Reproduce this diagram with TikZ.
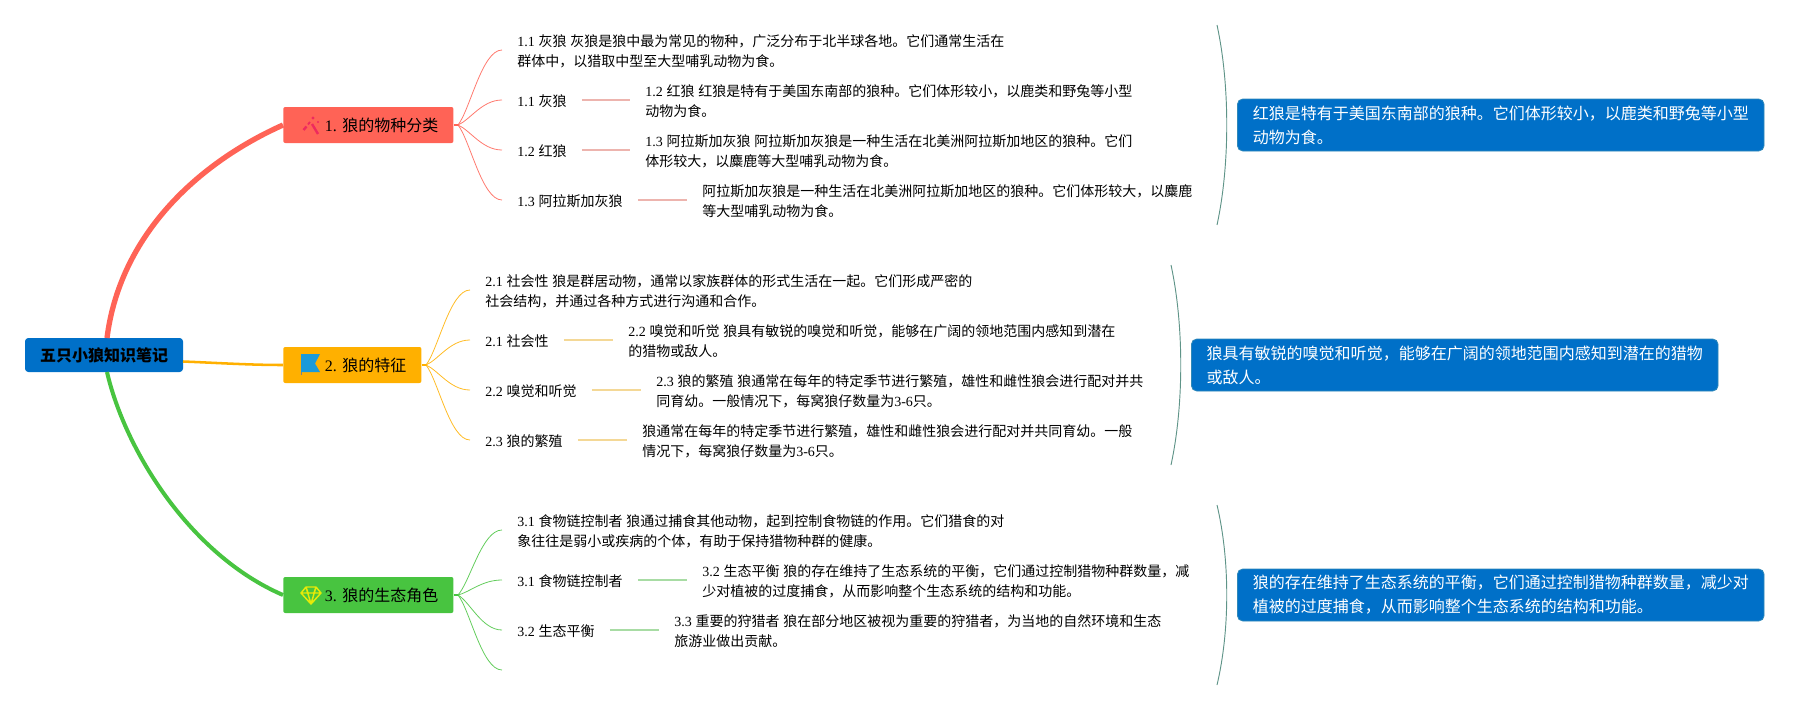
\documentclass[tikz,border=0pt]{standalone}
\usepackage{fontspec}
\setmainfont[WordSpace=1.2]{Noto Sans CJK SC}
\newfontfamily\latfont{Liberation Serif}
\newcommand{\lat}[1]{{\latfont #1}}
\definecolor{cred}{HTML}{FF6356}
\definecolor{cora}{HTML}{FFB000}
\definecolor{cgrn}{HTML}{48C440}
\definecolor{cblu}{HTML}{0070C8}
\definecolor{cedge}{HTML}{2F88B8}
\definecolor{carc}{HTML}{5F9488}
\definecolor{sred}{HTML}{EDB4AE}
\definecolor{sora}{HTML}{F4D896}
\definecolor{sgrn}{HTML}{A8DCA4}
\tikzset{
  txt/.style={anchor=west,inner xsep=11.25pt,inner ysep=0pt,align=left,font=\fontsize{10.5pt}{15pt}\selectfont,text=black,
    execute at begin node={\rule{0pt}{14pt}},execute at end node={\rule[-4.5pt]{0pt}{4.5pt}}},
  two/.style={txt,execute at begin node={\rule{0pt}{29pt}}},
  rootbox/.style={fill=cblu,rounded corners=2.5pt,minimum width=118.5pt,minimum height=25.5pt,inner sep=0pt,font=\fontsize{12pt}{15pt}\selectfont\bfseries,text=black},
  topic/.style={rounded corners=1.5pt,minimum height=27pt,inner xsep=11.25pt,inner ysep=0pt,anchor=west,font=\fontsize{12pt}{15pt}\selectfont,text=black,
    execute at begin node={\rule{0pt}{15pt}},execute at end node={\rule[-5pt]{0pt}{5pt}}},
  notebox/.style={fill=cblu,draw=cedge,line width=.6pt,rounded corners=4pt,anchor=west,inner xsep=11.25pt,inner ysep=0pt,minimum width=395pt,minimum height=39pt,align=left,font=\fontsize{12pt}{18pt}\selectfont,text=white},
  twig/.style={line width=.6pt,opacity=.85},
  seg/.style={line width=1.5pt},
  brack/.style={draw=carc,line width=.7pt},
}
\begin{document}
\begin{tikzpicture}[x=.75pt,y=-.75pt]
\useasboundingbox (0,0) rectangle (1809,710);
% root and topics
\node[rootbox] (root) at (104,355) {五只小狼知识笔记};
\node[topic,fill=cred] (n1) at (283,125) {\hspace*{20pt}\lat{1.} 狼的物种分类};
\node[topic,fill=cora] (n2) at (283,365) {\hspace*{20pt}\lat{2.} 狼的特征};
\node[topic,fill=cgrn] (n3) at (283,595) {\hspace*{20pt}\lat{3.} 狼的生态角色};
% main connectors
\coordinate (rt) at (107,338);
\coordinate (rb) at (107,372);
\coordinate (rr) at (183,361.5);
\draw[cred,line width=4pt] (rt) .. controls (120,235) and (198,163) .. (n1.west);
\draw[cora,line width=1.9pt] (rr) .. controls (220,363) and (250,365) .. (n2.west);
\draw[cgrn,line width=3pt] (rb) .. controls (125,450) and (190,555) .. (n3.west);
% junctions
\coordinate (j1) at (458,125);
\coordinate (j2) at (426,365);
\coordinate (j3) at (458,595);
\draw[cred,line width=1.5pt] (n1.east) -- (j1);
\draw[cora,line width=1.5pt] (n2.east) -- (j2);
\draw[cgrn,line width=1.5pt] (n3.east) -- (j3);
% branch 1
\node[two] (a0) at (502,50) {\lat{1.1} 灰狼 灰狼是狼中最为常见的物种，广泛分布于北半球各地。它们通常生活在\\群体中，以猎取中型至大型哺乳动物为食。};
\node[txt] (a1) at (502,100) {\lat{1.1} 灰狼};
\node[txt] (a2) at (502,150) {\lat{1.2} 红狼};
\node[txt] (a3) at (502,200) {\lat{1.3} 阿拉斯加灰狼};
\node[two] (a1t) at (630,100) {\lat{1.2} 红狼 红狼是特有于美国东南部的狼种。它们体形较小，以鹿类和野兔等小型\\动物为食。};
\node[two] (a2t) at (630,150) {\lat{1.3} 阿拉斯加灰狼 阿拉斯加灰狼是一种生活在北美洲阿拉斯加地区的狼种。它们\\体形较大，以麋鹿等大型哺乳动物为食。};
\node[two] (a3t) at (687,200) {阿拉斯加灰狼是一种生活在北美洲阿拉斯加地区的狼种。它们体形较大，以麋鹿\\等大型哺乳动物为食。};
\draw[twig,cred] (j1) .. controls (470,110) and (482,50) .. (a0.west);
\draw[twig,cred] (j1) .. controls (470,120) and (482,100) .. (a1.west);
\draw[twig,cred] (j1) .. controls (470,130) and (482,150) .. (a2.west);
\draw[twig,cred] (j1) .. controls (470,140) and (482,200) .. (a3.west);
\draw[seg,sred] (a1.east) -- (a1t.west);
\draw[seg,sred] (a2.east) -- (a2t.west);
\draw[seg,sred] (a3.east) -- (a3t.west);
% branch 2
\node[two] (b0) at (470,290) {\lat{2.1} 社会性 狼是群居动物，通常以家族群体的形式生活在一起。它们形成严密的\\社会结构，并通过各种方式进行沟通和合作。};
\node[txt] (b1) at (470,340) {\lat{2.1} 社会性};
\node[txt] (b2) at (470,390) {\lat{2.2} 嗅觉和听觉};
\node[txt] (b3) at (470,440) {\lat{2.3} 狼的繁殖};
\node[two] (b1t) at (613,340) {\lat{2.2} 嗅觉和听觉 狼具有敏锐的嗅觉和听觉，能够在广阔的领地范围内感知到潜在\\的猎物或敌人。};
\node[two] (b2t) at (641,390) {\lat{2.3} 狼的繁殖 狼通常在每年的特定季节进行繁殖，雄性和雌性狼会进行配对并共\\同育幼。一般情况下，每窝狼仔数量为\lat{3-6}只。};
\node[two] (b3t) at (627,440) {狼通常在每年的特定季节进行繁殖，雄性和雌性狼会进行配对并共同育幼。一般\\情况下，每窝狼仔数量为\lat{3-6}只。};
\draw[twig,cora] (j2) .. controls (438,350) and (450,290) .. (b0.west);
\draw[twig,cora] (j2) .. controls (438,360) and (450,340) .. (b1.west);
\draw[twig,cora] (j2) .. controls (438,370) and (450,390) .. (b2.west);
\draw[twig,cora] (j2) .. controls (438,380) and (450,440) .. (b3.west);
\draw[seg,sora] (b1.east) -- (b1t.west);
\draw[seg,sora] (b2.east) -- (b2t.west);
\draw[seg,sora] (b3.east) -- (b3t.west);
% branch 3
\node[two] (c0) at (502,530) {\lat{3.1} 食物链控制者 狼通过捕食其他动物，起到控制食物链的作用。它们猎食的对\\象往往是弱小或疾病的个体，有助于保持猎物种群的健康。};
\node[txt] (c1) at (502,580) {\lat{3.1} 食物链控制者};
\node[txt] (c2) at (502,630) {\lat{3.2} 生态平衡};
\coordinate (c3) at (502,670);
\node[two] (c1t) at (687,580) {\lat{3.2} 生态平衡 狼的存在维持了生态系统的平衡，它们通过控制猎物种群数量，减\\少对植被的过度捕食，从而影响整个生态系统的结构和功能。};
\node[two] (c2t) at (659,630) {\lat{3.3} 重要的狩猎者 狼在部分地区被视为重要的狩猎者，为当地的自然环境和生态\\旅游业做出贡献。};
\draw[twig,cgrn] (j3) .. controls (470,582) and (482,530) .. (c0.west);
\draw[twig,cgrn] (j3) .. controls (470,592) and (482,580) .. (c1.west);
\draw[twig,cgrn] (j3) .. controls (470,602) and (482,630) .. (c2.west);
\draw[twig,cgrn] (j3) .. controls (470,610) and (482,670) .. (c3);
\draw[seg,sgrn] (c1.east) -- (c1t.west);
\draw[seg,sgrn] (c2.east) -- (c2t.west);
% brackets
\coordinate (p1a) at (1217,25); \coordinate (p1b) at (1217,225);
\coordinate (p2a) at (1171,265); \coordinate (p2b) at (1171,465);
\coordinate (p3a) at (1217,505); \coordinate (p3b) at (1217,685);
\draw[brack] (p1a) .. controls (1230,85) and (1230,165) .. (p1b);
\draw[brack] (p2a) .. controls (1184,325) and (1184,405) .. (p2b);
\draw[brack] (p3a) .. controls (1230,560) and (1230,630) .. (p3b);
% notes
\node[notebox] (s1) at (1237,125) {红狼是特有于美国东南部的狼种。它们体形较小，以鹿类和野兔等小型\\动物为食。};
\node[notebox] (s2) at (1191,365) {狼具有敏锐的嗅觉和听觉，能够在广阔的领地范围内感知到潜在的猎物\\或敌人。};
\node[notebox] (s3) at (1237,595) {狼的存在维持了生态系统的平衡，它们通过控制猎物种群数量，减少对\\植被的过度捕食，从而影响整个生态系统的结构和功能。};
% icons
\definecolor{cpink}{HTML}{EE2A5E}
\draw[cpink,line width=1.8pt] (312,124) -- (318,134);
\draw[cpink,line width=1.8pt] (303.5,130) -- (306.5,126.5);
\draw[cpink,line width=1.4pt] (308,124.5) -- (310,122);
\fill[cpink] (313,118) circle (1.2pt) (318,122) circle (.8pt);
\draw[color=gray,line width=.7pt] (301,354) -- (301,375);
\definecolor{cflag}{HTML}{1B9AD9}
\fill[cflag] (301,354) -- (320,354) -- (315,363.5) -- (320,372) -- (301,372) -- cycle;
\draw[color=yellow!90!green,line width=1.1pt,line join=round] (306,587) -- (316,587) -- (321,593) -- (311,604) -- (301,593) -- cycle (301,593) -- (321,593) (306,587) -- (311,604) (316,587) -- (311,604) (306,587) -- (308,593) (316,587) -- (314,593);
\end{tikzpicture}
\end{document}
